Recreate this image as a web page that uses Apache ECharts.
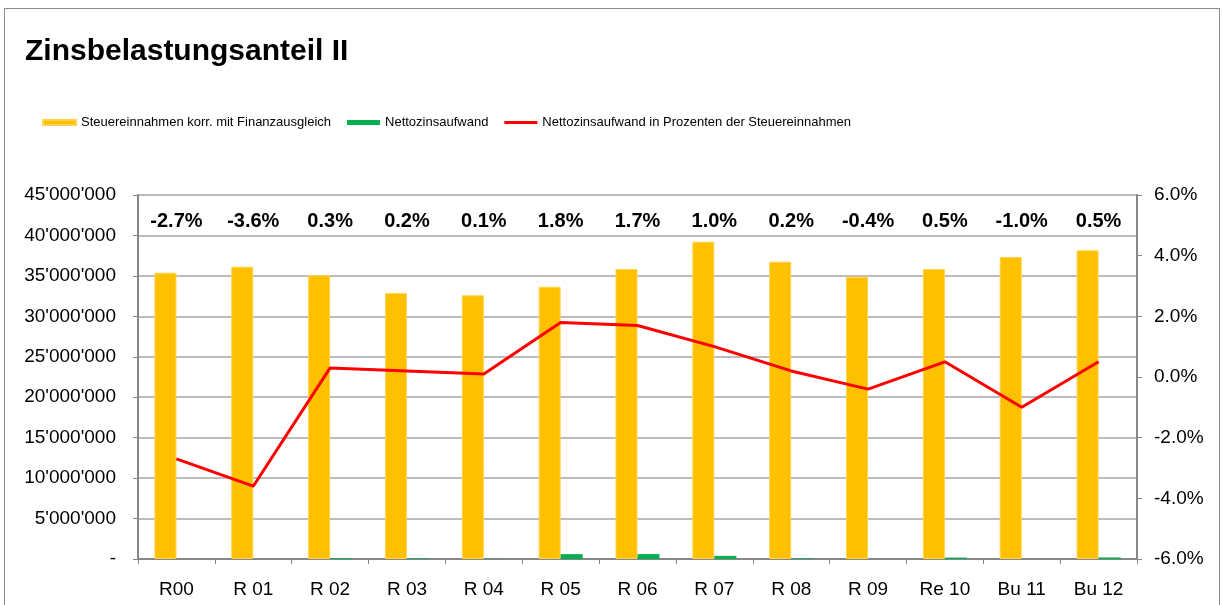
<!DOCTYPE html>
<html>
<head>
<meta charset="utf-8">
<script src="https://cdn.jsdelivr.net/npm/echarts@6/dist/echarts.min.js"></script>
<style>
  html, body { margin: 0; padding: 0; background: #fff; }
  #frame { position: absolute; left: 4px; top: 8px; width: 1216px; height: 620px; border: 1px solid #8c8c8c; box-sizing: border-box; }
  #chart { position: absolute; left: 0; top: 0; width: 1223px; height: 605px; }
</style>
</head>
<body>
<div id="frame"></div>
<div id="chart"></div>
<script>
// ---- data ----
const categories = ['R00', 'R 01', 'R 02', 'R 03', 'R 04', 'R 05', 'R 06', 'R 07', 'R 08', 'R 09', 'Re 10', 'Bu 11', 'Bu 12'];
const steuereinnahmen = [35390000, 36140000, 35070000, 32880000, 32600000, 33660000, 35850000, 39230000, 36760000, 34900000, 35850000, 37340000, 38160000];
const nettozinsaufwand = [-960000, -1300000, 100000, 70000, 30000, 600000, 610000, 390000, 70000, -140000, 180000, -370000, 190000];
const prozent = [-2.7, -3.6, 0.3, 0.2, 0.1, 1.8, 1.7, 1.0, 0.2, -0.4, 0.5, -1.0, 0.5];
const seriesNames = ['Steuereinnahmen korr. mit Finanzausgleich', 'Nettozinsaufwand', 'Nettozinsaufwand in Prozenten der Steuereinnahmen'];
const titleText = 'Zinsbelastungsanteil II';

const FONT = '"Liberation Sans", Arial, sans-serif';
const prozentLabels = prozent.map(v => v.toFixed(1) + '%');

function fmtLeft(v) {
  if (v === 0) return '-';
  return String(Math.round(v)).replace(/\B(?=(\d{3})+(?!\d))/g, "'");
}

// thin line icon for the legend (invisible corner points keep the bounding box)
const lineIcon = 'path://M0,0L0.01,0L0,0.01Z M0,1L33,1L33,4L0,4Z M0,5L0.01,5L0,4.99Z';

const chart = echarts.init(document.getElementById('chart'), null, { renderer: 'canvas' });
chart.setOption({
  animation: false,
  backgroundColor: 'transparent',
  textStyle: { fontFamily: FONT },
  title: {
    text: titleText,
    left: 20,
    top: 32,
    textStyle: { fontFamily: FONT, fontSize: 30, fontWeight: 'bold', color: '#000' }
  },
  legend: {
    left: 37,
    top: 111,
    itemWidth: 33,
    itemHeight: 5,
    itemGap: 16,
    textStyle: { fontFamily: FONT, fontSize: 13, color: '#000' },
    data: [
      { name: seriesNames[0], icon: 'rect' },
      { name: seriesNames[1], icon: 'rect' },
      { name: seriesNames[2], icon: lineIcon, itemStyle: { color: '#FF0000' } }
    ]
  },
  grid: { left: 138, right: 86, top: 195, bottom: 46, containLabel: false },
  xAxis: [
    {
      type: 'category',
      data: categories,
      position: 'bottom',
      axisLine: { lineStyle: { color: '#868686', width: 2 } },
      axisTick: { show: true, length: 5, lineStyle: { color: '#868686', width: 1 } },
      axisLabel: { color: '#000', fontSize: 19, fontFamily: FONT, margin: 21 },
      splitLine: { show: false }
    },
    {
      type: 'category',
      data: prozentLabels,
      position: 'top',
      axisLine: { show: false },
      axisTick: { show: false },
      axisLabel: { inside: true, color: '#000', fontSize: 20, fontWeight: 'bold', fontFamily: FONT, margin: 16 },
      splitLine: { show: false }
    }
  ],
  yAxis: [
    {
      type: 'value',
      min: 0,
      max: 45000000,
      interval: 5000000,
      position: 'left',
      axisLine: { show: true, lineStyle: { color: '#868686', width: 2 } },
      axisTick: { show: true, length: 5, lineStyle: { color: '#868686' } },
      axisLabel: { color: '#000', fontSize: 19, fontFamily: FONT, margin: 22, formatter: fmtLeft },
      splitLine: { show: true, lineStyle: { color: '#a6a6a6', width: 1.5 } }
    },
    {
      type: 'value',
      min: -6,
      max: 6,
      interval: 2,
      position: 'right',
      axisLine: { show: true, lineStyle: { color: '#868686', width: 2 } },
      axisTick: { show: true, length: 5, lineStyle: { color: '#868686' } },
      axisLabel: { color: '#000', fontSize: 19, fontFamily: FONT, margin: 17, formatter: v => v.toFixed(1) + '%' },
      splitLine: { show: false }
    }
  ],
  series: [
    {
      name: seriesNames[0],
      type: 'bar',
      xAxisIndex: 0,
      yAxisIndex: 0,
      data: steuereinnahmen,
      barWidth: 22,
      barGap: '0%',
      itemStyle: { color: '#FFC000', borderColor: '#FFD34D', borderWidth: 1 }
    },
    {
      name: seriesNames[1],
      type: 'bar',
      xAxisIndex: 0,
      yAxisIndex: 0,
      data: nettozinsaufwand,
      barWidth: 22,
      barGap: '0%',
      itemStyle: { color: '#00B050' }
    },
    {
      name: seriesNames[2],
      type: 'line',
      xAxisIndex: 0,
      yAxisIndex: 1,
      data: prozent,
      symbol: 'none',
      lineStyle: { color: '#FF0000', width: 3 },
      itemStyle: { color: '#FF0000' },
      z: 5
    }
  ]
});
</script>
</body>
</html>
